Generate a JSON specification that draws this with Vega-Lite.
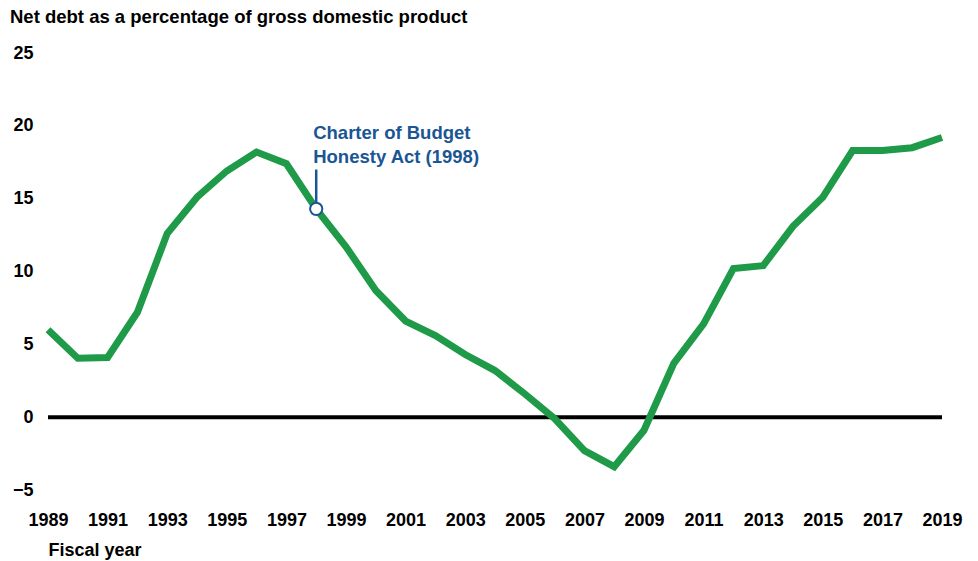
{
  "$schema": "https://vega.github.io/schema/vega-lite/v6.json",
  "width": 894,
  "height": 437,
  "autosize": {"type": "none"},
  "padding": {"left": 48, "top": 53, "right": 36, "bottom": 71},
  "background": "white",
  "config": {
    "view": {"stroke": null},
    "font": "Liberation Sans"
  },
  "title": {
    "text": "Net debt as a percentage of gross domestic product",
    "anchor": "start",
    "frame": "group",
    "dx": -38,
    "offset": 18,
    "fontSize": 18.5,
    "fontWeight": "bold",
    "color": "#000000"
  },
  "datasets": {
    "series": [
      {"year": 1989, "value": 6.0},
      {"year": 1990, "value": 4.05},
      {"year": 1991, "value": 4.1},
      {"year": 1992, "value": 7.2},
      {"year": 1993, "value": 12.6},
      {"year": 1994, "value": 15.1},
      {"year": 1995, "value": 16.9},
      {"year": 1996, "value": 18.2},
      {"year": 1997, "value": 17.4},
      {"year": 1998, "value": 14.3},
      {"year": 1999, "value": 11.7},
      {"year": 2000, "value": 8.7},
      {"year": 2001, "value": 6.6},
      {"year": 2002, "value": 5.6},
      {"year": 2003, "value": 4.3},
      {"year": 2004, "value": 3.2},
      {"year": 2005, "value": 1.6},
      {"year": 2006, "value": -0.1},
      {"year": 2007, "value": -2.3},
      {"year": 2008, "value": -3.4},
      {"year": 2009, "value": -0.9},
      {"year": 2010, "value": 3.7},
      {"year": 2011, "value": 6.4},
      {"year": 2012, "value": 10.2},
      {"year": 2013, "value": 10.4},
      {"year": 2014, "value": 13.1},
      {"year": 2015, "value": 15.1},
      {"year": 2016, "value": 18.3},
      {"year": 2017, "value": 18.3},
      {"year": 2018, "value": 18.5},
      {"year": 2019, "value": 19.2}
    ],
    "zero": [{"start": 1989, "end": 2019, "value": 0}],
    "marker": [{"year": 1998, "value": 14.3, "top": 17.0}],
    "label": [{"year": 1998, "value": 19.1, "text": ["Charter of Budget", "Honesty Act (1998)"]}]
  },
  "layer": [
    {
      "data": {"name": "zero"},
      "mark": {"type": "rule", "color": "#000000", "strokeWidth": 4},
      "encoding": {
        "x": {
          "field": "start",
          "type": "quantitative",
          "scale": {"domain": [1989, 2019], "nice": false, "zero": false},
          "axis": {
            "values": [1989, 1991, 1993, 1995, 1997, 1999, 2001, 2003, 2005, 2007, 2009, 2011, 2013, 2015, 2017, 2019],
            "format": "d",
            "domain": false,
            "ticks": false,
            "grid": false,
            "labelFlush": false,
            "labelBound": false,
            "labelOverlap": false,
            "labelFontSize": 18,
            "labelFontWeight": "bold",
            "labelColor": "#000000",
            "labelPadding": 21,
            "title": "Fiscal year",
            "titleFontSize": 18,
            "titleFontWeight": "bold",
            "titleColor": "#000000",
            "titleAnchor": "start",
            "titleAlign": "left",
            "titlePadding": 12
          }
        },
        "x2": {"field": "end"},
        "y": {
          "field": "value",
          "type": "quantitative",
          "scale": {"domain": [-5, 25], "nice": false},
          "axis": {
            "values": [-5, 0, 5, 10, 15, 20, 25],
            "domain": false,
            "ticks": false,
            "grid": false,
            "labelFlush": false,
            "labelFontSize": 18,
            "labelFontWeight": "bold",
            "labelColor": "#000000",
            "labelPadding": 15,
            "title": null
          }
        }
      }
    },
    {
      "data": {"name": "series"},
      "mark": {"type": "line", "color": "#1f9a48", "strokeWidth": 7, "strokeJoin": "miter", "strokeCap": "butt"},
      "encoding": {
        "x": {"field": "year", "type": "quantitative"},
        "y": {"field": "value", "type": "quantitative"}
      }
    },
    {
      "data": {"name": "marker"},
      "mark": {"type": "rule", "color": "#1a5594", "strokeWidth": 2.5},
      "encoding": {
        "x": {"field": "year", "type": "quantitative"},
        "y": {"field": "value", "type": "quantitative"},
        "y2": {"field": "top"}
      }
    },
    {
      "data": {"name": "marker"},
      "mark": {"type": "point", "filled": true, "fill": "#ffffff", "stroke": "#1a5594", "strokeWidth": 2, "size": 150, "opacity": 1},
      "encoding": {
        "x": {"field": "year", "type": "quantitative"},
        "y": {"field": "value", "type": "quantitative"}
      }
    },
    {
      "data": {"name": "label"},
      "mark": {"type": "text", "align": "left", "baseline": "alphabetic", "dx": -3, "fontSize": 18.5, "fontWeight": "bold", "color": "#1a5594", "lineHeight": 24},
      "encoding": {
        "x": {"field": "year", "type": "quantitative"},
        "y": {"field": "value", "type": "quantitative"},
        "text": {"field": "text"}
      }
    }
  ]
}
